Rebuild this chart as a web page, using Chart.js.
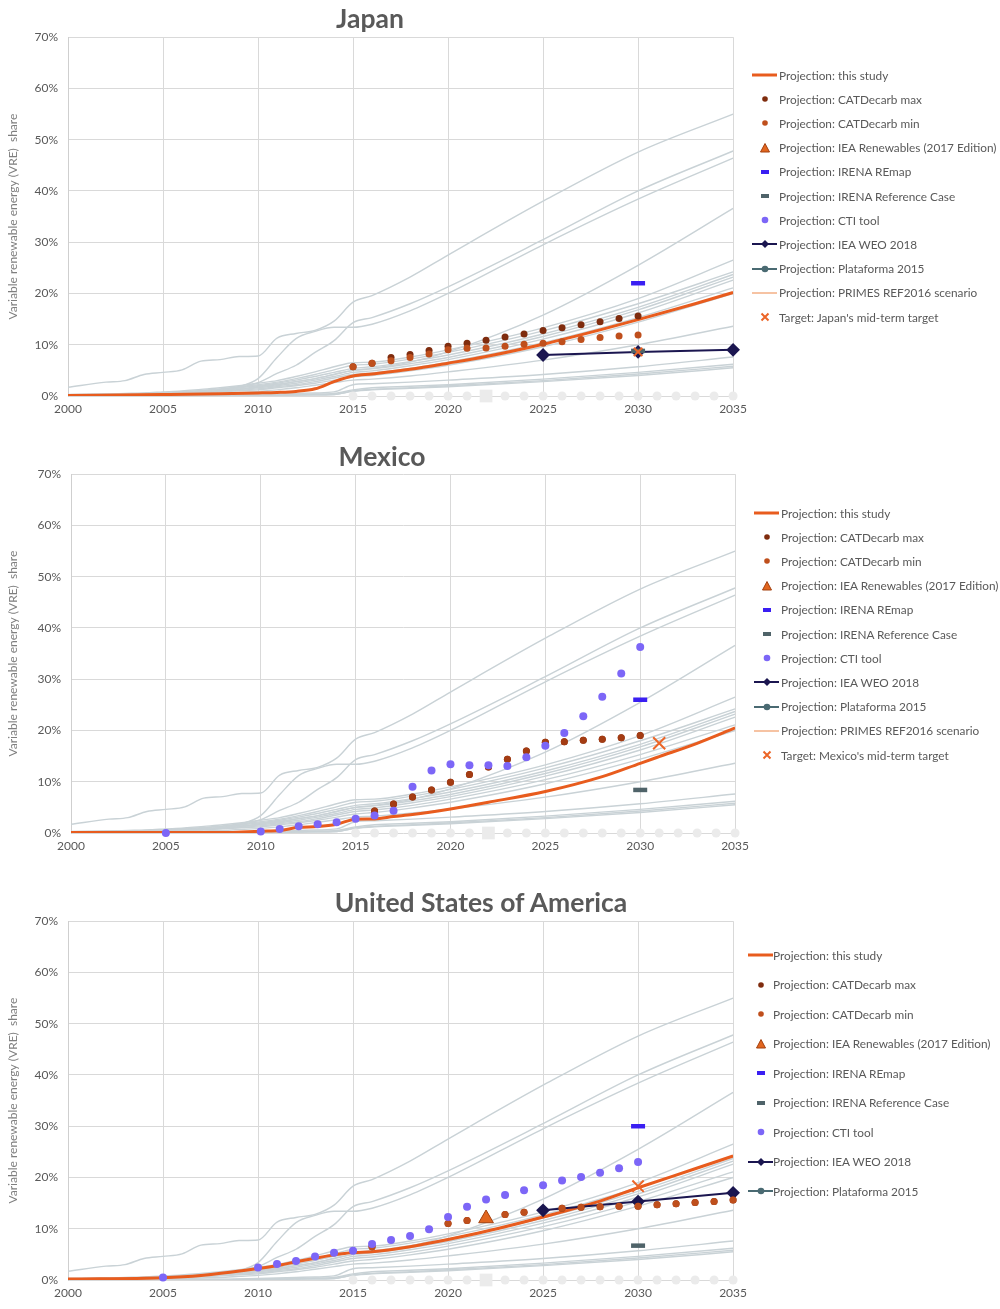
<!DOCTYPE html>
<html>
<head>
<meta charset="utf-8">
<script src="https://cdn.jsdelivr.net/npm/chart.js@4/dist/chart.umd.min.js"></script>
<style>
  body { margin: 0; background: #fff; width: 1000px; height: 1309px; position: relative; overflow: hidden; font-family: Lato, "Open Sans", sans-serif; }
  .box { position: absolute; left: 0; }
  .title { position: absolute; font-weight: bold; color: #595959; font-size: 26px; white-space: nowrap; transform: translate(-50%, -50%) scaleX(1.02); }
  .leg { position: absolute; height: 16px; display: flex; align-items: center; font-size: 11.8px; color: #595959; white-space: nowrap; }
  .leg svg { position: absolute; top: 2px; }
</style>
</head>
<body>
<script>
'use strict';

// grey background pathways (same in every panel)
var GRAY_YEARS = [2000, 2002, 2003, 2004, 2005, 2006, 2007, 2008, 2009, 2010, 2011, 2012, 2013, 2014, 2015, 2016, 2018, 2020, 2025, 2030, 2035];
var GRAY_LINES = [
  [1.7, 2.7, 3.0, 4.2, 4.6, 5.1, 6.8, 7.1, 7.7, 7.8, 11.3, 12.2, 12.8, 14.6, 18.3, 19.6, 23.2, 27.5, 38.0, 47.6, 55.0],
  [0.2, 0.3, 0.35, 0.4, 0.5, 0.6, 0.8, 1.1, 1.8, 3.4, 7.5, 11.2, 12.6, 13.4, 13.4, 14.0, 16.6, 20.0, 29.5, 38.4, 46.4],
  [0.2, 0.3, 0.35, 0.4, 0.5, 0.6, 0.8, 1.0, 1.6, 2.6, 4.4, 6.0, 8.5, 10.8, 14.3, 15.3, 18.0, 21.3, 30.5, 40.0, 47.8],
  [0.1, 0.2, 0.25, 0.3, 0.4, 0.5, 0.7, 0.9, 1.2, 1.8, 2.3, 2.8, 3.4, 4.2, 5.0, 5.4, 6.6, 8.6, 15.8, 25.5, 36.6],
  [0.3, 0.4, 0.5, 0.6, 0.8, 1.0, 1.3, 1.6, 2.0, 2.5, 3.0, 3.8, 4.7, 5.7, 6.5, 6.6, 7.6, 9.0, 13.3, 19.0, 26.5],
  [0.2, 0.3, 0.4, 0.5, 0.7, 0.9, 1.1, 1.4, 1.8, 2.2, 2.7, 3.4, 4.2, 5.1, 6.0, 6.2, 7.2, 8.5, 12.7, 18.0, 24.2],
  [0.2, 0.3, 0.4, 0.5, 0.6, 0.8, 1.0, 1.3, 1.6, 2.0, 2.5, 3.1, 3.8, 4.6, 5.4, 5.7, 6.7, 8.0, 12.1, 17.3, 23.7],
  [0.1, 0.2, 0.3, 0.4, 0.5, 0.7, 0.9, 1.1, 1.4, 1.8, 2.2, 2.8, 3.4, 4.2, 5.0, 5.3, 6.3, 7.5, 11.6, 16.8, 23.2],
  [0.1, 0.2, 0.3, 0.3, 0.4, 0.6, 0.8, 1.0, 1.3, 1.6, 2.0, 2.5, 3.1, 3.8, 4.6, 4.9, 5.9, 7.1, 11.1, 16.2, 22.6],
  [0.1, 0.1, 0.2, 0.3, 0.4, 0.5, 0.7, 0.9, 1.1, 1.4, 1.8, 2.2, 2.8, 3.5, 4.2, 4.5, 5.4, 6.6, 10.4, 15.3, 21.1],
  [0.1, 0.1, 0.2, 0.2, 0.3, 0.4, 0.6, 0.8, 1.0, 1.2, 1.6, 2.0, 2.5, 3.1, 3.7, 4.0, 4.9, 6.0, 9.6, 14.4, 20.0],
  [0.1, 0.1, 0.1, 0.2, 0.2, 0.3, 0.4, 0.5, 0.7, 0.9, 1.2, 1.6, 2.1, 2.6, 3.1, 3.3, 3.9, 4.7, 7.0, 10.0, 13.6],
  [0, 0, 0, 0, 0, 0.1, 0.1, 0.1, 0.2, 0.3, 0.4, 0.5, 0.6, 0.8, 2.2, 2.4, 2.7, 3.1, 4.2, 5.7, 7.6],
  [0, 0, 0, 0, 0, 0, 0.1, 0.1, 0.1, 0.2, 0.2, 0.3, 0.4, 0.5, 1.2, 1.6, 1.9, 2.2, 3.3, 4.6, 6.2],
  [0, 0, 0, 0, 0, 0, 0, 0.1, 0.1, 0.1, 0.2, 0.2, 0.3, 0.3, 1.0, 1.3, 1.6, 2.0, 3.0, 4.3, 5.8],
  [0, 0, 0, 0, 0, 0, 0, 0, 0.1, 0.1, 0.1, 0.2, 0.2, 0.3, 0.9, 1.2, 1.5, 1.8, 2.8, 4.0, 5.5]
];
// faint empty series lying on the 0% line
var ZERO_YEARS = [2015, 2016, 2017, 2018, 2019, 2020, 2021, 2023, 2024, 2025, 2026, 2027, 2028, 2029, 2030, 2031, 2032, 2033, 2034, 2035];
var ZERO_VALUES = [0, 0, 0, 0, 0, 0, 0, 0, 0, 0, 0, 0, 0, 0, 0, 0, 0, 0, 0, 0];
var ZERO_SQ_YEAR = [2022];
var ZERO_SQ_VALUE = [0];

// Japan
var JP_STUDY_YEARS = [2000, 2005, 2008, 2010, 2011, 2012, 2013, 2014, 2015, 2016, 2018, 2020, 2022, 2025, 2028, 2030, 2033, 2035];
var JP_STUDY = [0.1, 0.3, 0.45, 0.6, 0.7, 0.9, 1.4, 2.8, 3.9, 4.3, 5.2, 6.4, 7.7, 10.1, 12.9, 14.9, 18.0, 20.2];
var JP_CAT_YEARS = [2015, 2016, 2017, 2018, 2019, 2020, 2021, 2022, 2023, 2024, 2025, 2026, 2027, 2028, 2029, 2030];
var JP_CAT_MAX = [5.7, 6.4, 7.5, 8.1, 8.9, 9.7, 10.3, 10.9, 11.5, 12.1, 12.8, 13.3, 13.9, 14.5, 15.1, 15.6];
var JP_CAT_MIN = [5.7, 6.4, 6.9, 7.5, 8.2, 9.0, 9.3, 9.35, 9.7, 10.1, 10.3, 10.6, 11.0, 11.4, 11.7, 11.9];
var JP_WEO_YEARS = [2025, 2030, 2035];
var JP_WEO = [8.0, 8.6, 9.0];
var JP_REMAP = [22.0];
var JP_REF = [8.8];
var JP_TARGET_YEAR = [2030];
var JP_TARGET = [8.6];

// Mexico
var MX_STUDY_YEARS = [2000, 2005, 2008, 2009, 2010, 2011, 2012, 2013, 2014, 2015, 2016, 2017, 2018, 2020, 2022, 2025, 2028, 2030, 2031, 2033, 2035];
var MX_STUDY = [0.1, 0.1, 0.1, 0.2, 0.35, 0.5, 1.1, 1.25, 1.7, 2.7, 2.75, 3.2, 3.6, 4.7, 6.0, 8.1, 11.0, 13.6, 14.9, 17.5, 20.5];
var MX_CAT_YEARS = [2016, 2017, 2018, 2019, 2020, 2021, 2022, 2023, 2024, 2025, 2026, 2027, 2028, 2029, 2030];
var MX_CAT = [4.3, 5.65, 7.0, 8.4, 9.9, 11.4, 12.9, 14.4, 16.0, 17.7, 17.8, 18.1, 18.3, 18.6, 19.0];
var MX_CTI_YEARS = [2005, 2010, 2011, 2012, 2013, 2014, 2015, 2016, 2017, 2018, 2019, 2020, 2021, 2022, 2023, 2024, 2025, 2026, 2027, 2028, 2029, 2030];
var MX_CTI = [0.0, 0.3, 0.8, 1.3, 1.7, 2.1, 2.8, 3.4, 4.35, 9.0, 12.2, 13.4, 13.2, 13.2, 13.05, 14.8, 17.0, 19.5, 22.8, 26.6, 31.1, 36.3];
var MX_REMAP = [26.0];
var MX_REF = [8.4];
var MX_TARGET_YEAR = [2031];
var MX_TARGET = [17.5];

// United States of America
var US_STUDY_YEARS = [2000, 2005, 2007, 2010, 2011, 2012, 2013, 2014, 2015, 2016, 2018, 2020, 2022, 2025, 2028, 2030, 2033, 2035];
var US_STUDY = [0.2, 0.45, 0.9, 2.25, 2.8, 3.55, 4.25, 4.9, 5.35, 5.5, 6.5, 7.9, 9.5, 12.3, 15.4, 18.0, 21.7, 24.2];
var US_CAT_YEARS = [2016, 2020, 2021, 2022, 2023, 2024, 2026, 2027, 2028, 2029, 2030, 2031, 2032, 2033, 2034, 2035];
var US_CAT = [6.5, 11.0, 11.6, 12.2, 12.8, 13.2, 14.0, 14.2, 14.3, 14.4, 14.4, 14.7, 14.9, 15.1, 15.3, 15.6];
var US_CTI_YEARS = [2005, 2010, 2011, 2012, 2013, 2014, 2015, 2016, 2017, 2018, 2019, 2020, 2021, 2022, 2023, 2024, 2025, 2026, 2027, 2028, 2029, 2030];
var US_CTI = [0.5, 2.45, 3.1, 3.7, 4.6, 5.3, 5.7, 7.0, 7.8, 8.6, 9.9, 12.3, 14.3, 15.7, 16.6, 17.5, 18.5, 19.4, 20.1, 20.9, 21.8, 23.0];
var US_IEA_REN_YEAR = [2022];
var US_IEA_REN = [12.0];
var US_WEO_YEARS = [2025, 2030, 2035];
var US_WEO = [13.6, 15.3, 17.0];
var US_REMAP = [30.0];
var US_REF = [6.7];
var US_TARGET_YEAR = [2030];
var US_TARGET = [18.3];

var IRENA_YEAR = [2030];

var LABELS = {
  study: 'Projection: this study',
  catMax: 'Projection: CATDecarb max',
  catMin: 'Projection: CATDecarb min',
  ieaRen: 'Projection: IEA Renewables (2017 Edition)',
  remap: 'Projection: IRENA REmap',
  ref: 'Projection: IRENA Reference Case',
  cti: 'Projection: CTI tool',
  weo: 'Projection: IEA WEO 2018',
  plat: 'Projection: Plataforma 2015',
  primes: 'Projection: PRIMES REF2016 scenario'
};
var LEGEND_JP = ['study', 'catMax', 'catMin', 'ieaRen', 'remap', 'ref', 'cti', 'weo', 'plat', 'primes', 'target'];
var LEGEND_MX = ['study', 'catMax', 'catMin', 'ieaRen', 'remap', 'ref', 'cti', 'weo', 'plat', 'primes', 'target'];
var LEGEND_US = ['study', 'catMax', 'catMin', 'ieaRen', 'remap', 'ref', 'cti', 'weo', 'plat'];

var C = {
  gray: '#c9d2d6', zero: '#ebebeb', study: '#e85c1e', catMax: '#7f2c0e', catMin: '#bf4f1c',
  ieaRen: '#e2661f', ieaRenEdge: '#a3400f', remap: '#3a1ff2', ref: '#4f6369', cti: '#7c66f7',
  weo: '#1b1650', plat: '#4a6a72', primes: '#f6c3a3', target: '#ec6527'
};

Chart.defaults.font.family = 'Lato, "Open Sans", sans-serif';

function xy(xs, ys) {
  return xs.map(function (x, i) { return { x: x, y: ys[i] }; });
}

function marks(label, xs, ys, opts) {
  return Object.assign({
    label: label, data: xy(xs, ys), showLine: false, clip: false,
    pointRadius: 3.5, pointBorderWidth: 0, pointHoverRadius: 0
  }, opts);
}

function baseSets() {
  var sets = [];
  GRAY_LINES.forEach(function (vals, i) {
    sets.push({
      label: 'gray' + i, data: xy(GRAY_YEARS, vals), borderColor: C.gray, borderWidth: 1.4,
      pointRadius: 0, cubicInterpolationMode: 'monotone', order: 100
    });
  });
  sets.push(marks('zero', ZERO_YEARS, ZERO_VALUES, { pointRadius: 4.5, pointBackgroundColor: C.zero, order: 90 }));
  sets.push(marks('zeroSq', ZERO_SQ_YEAR, ZERO_SQ_VALUE, { pointStyle: 'rect', pointRadius: 9, pointBackgroundColor: C.zero, order: 90 }));
  return sets;
}

function studyLine(xs, ys) {
  return {
    label: LABELS.study, data: xy(xs, ys), borderColor: C.study, borderWidth: 3,
    pointRadius: 0, cubicInterpolationMode: 'monotone', order: 9
  };
}
function dashMark(label, ys, color) {
  return marks(label, IRENA_YEAR, ys, { pointStyle: 'line', pointRadius: 7, pointBorderWidth: 4.5, pointBorderColor: color, order: 4 });
}
function targetMark(label, xs, ys, r) {
  return marks(label, xs, ys, { pointStyle: 'crossRot', pointRadius: r, pointBorderWidth: 2, pointBorderColor: C.target, order: 1 });
}
function weoLine(xs, ys) {
  return {
    label: LABELS.weo, data: xy(xs, ys), borderColor: C.weo, borderWidth: 2, clip: false,
    pointStyle: 'rectRot', pointRadius: 5.5, pointBackgroundColor: C.weo, pointBorderColor: C.weo, order: 8
  };
}

function makeChart(g, datasets) {
  var box = document.createElement('div');
  box.className = 'box';
  box.style.top = (g.top - 16) + 'px';
  box.style.width = (g.right + 20) + 'px';
  box.style.height = (g.bottom - g.top + 16 + 24) + 'px';
  var cv = document.createElement('canvas');
  box.appendChild(cv);
  document.body.appendChild(box);

  var t = document.createElement('div');
  t.className = 'title';
  t.textContent = g.title;
  t.style.left = g.titleX + 'px';
  t.style.top = g.titleY + 'px';
  document.body.appendChild(t);

  return new Chart(cv, {
    type: 'line',
    data: { datasets: datasets },
    options: {
      responsive: true,
      maintainAspectRatio: false,
      animation: false,
      events: [],
      layout: { padding: { top: 16, right: 16, left: 0, bottom: 0 } },
      plugins: { legend: { display: false }, tooltip: { enabled: false } },
      scales: {
        x: {
          type: 'linear', min: 2000, max: 2035,
          ticks: { stepSize: 5, maxRotation: 0, padding: 6, color: '#595959', font: { size: 12 },
            callback: function (v) { return String(v); } },
          grid: { color: '#d9d9d9', drawTicks: false },
          border: { display: false },
          afterFit: function (s) { s.height = 24; }
        },
        y: {
          min: 0, max: 70,
          ticks: { stepSize: 10, padding: 10, color: '#595959', font: { size: 12 },
            callback: function (v) { return v + '%'; } },
          grid: { color: '#d9d9d9', drawTicks: false },
          border: { color: '#cfcfcf' },
          title: { display: true, text: 'Variable renewable energy (VRE)  share', color: '#7f7f7f',
            font: { size: 12 }, padding: { top: 6, bottom: 0 } },
          afterFit: function (s) { s.width = g.left; }
        }
      }
    }
  });
}

function markerSvg(key) {
  var s = '<svg width="26" height="12" viewBox="0 0 26 12">';
  if (key === 'study') s += '<line x1="0" y1="6" x2="25" y2="6" stroke="' + C.study + '" stroke-width="3"/>';
  else if (key === 'catMax') s += '<circle cx="13" cy="6" r="2.8" fill="' + C.catMax + '"/>';
  else if (key === 'catMin') s += '<circle cx="13" cy="6" r="2.8" fill="' + C.catMin + '"/>';
  else if (key === 'ieaRen') s += '<polygon points="13,1.5 17.5,10 8.5,10" fill="' + C.ieaRen + '" stroke="' + C.ieaRenEdge + '" stroke-width="1"/>';
  else if (key === 'remap') s += '<rect x="9" y="4" width="8" height="4" fill="' + C.remap + '"/>';
  else if (key === 'ref') s += '<rect x="9" y="4" width="8" height="4" fill="' + C.ref + '"/>';
  else if (key === 'cti') s += '<circle cx="13" cy="6" r="3.3" fill="' + C.cti + '"/>';
  else if (key === 'weo') s += '<line x1="0" y1="6" x2="25" y2="6" stroke="' + C.weo + '" stroke-width="2"/><polygon points="13,2 17,6 13,10 9,6" fill="' + C.weo + '"/>';
  else if (key === 'plat') s += '<line x1="0" y1="6" x2="25" y2="6" stroke="' + C.plat + '" stroke-width="2"/><circle cx="13" cy="6" r="3.3" fill="' + C.plat + '"/>';
  else if (key === 'primes') s += '<line x1="0" y1="6" x2="25" y2="6" stroke="' + C.primes + '" stroke-width="2"/>';
  else if (key === 'target') s += '<path d="M9.5 2.5 L16.5 9.5 M16.5 2.5 L9.5 9.5" stroke="' + C.target + '" stroke-width="2"/>';
  return s + '</svg>';
}

function legend(keys, targetLabel, lx, tx, y0, step) {
  keys.forEach(function (k, i) {
    var row = document.createElement('div');
    row.className = 'leg';
    row.style.left = lx + 'px';
    row.style.top = (y0 + i * step - 8) + 'px';
    row.innerHTML = markerSvg(k) + '<span style="margin-left:' + (tx - lx) + 'px">' +
      (k === 'target' ? targetLabel : LABELS[k]) + '</span>';
    document.body.appendChild(row);
  });
}

// Japan
makeChart({ title: 'Japan', top: 36, bottom: 396, left: 68, right: 733, titleX: 370, titleY: 18 },
  [
    targetMark("Target: Japan's mid-term target", JP_TARGET_YEAR, JP_TARGET, 6),
    dashMark(LABELS.remap, JP_REMAP, C.remap),
    dashMark(LABELS.ref, JP_REF, C.ref),
    marks(LABELS.catMin, JP_CAT_YEARS, JP_CAT_MIN, { pointBackgroundColor: C.catMin, order: 6 }),
    marks(LABELS.catMax, JP_CAT_YEARS, JP_CAT_MAX, { pointBackgroundColor: C.catMax, order: 7 }),
    weoLine(JP_WEO_YEARS, JP_WEO),
    studyLine(JP_STUDY_YEARS, JP_STUDY)
  ].concat(baseSets()));
legend(LEGEND_JP, "Target: Japan's mid-term target", 752, 779, 75, 24.2);

// Mexico
makeChart({ title: 'Mexico', top: 473, bottom: 833, left: 71, right: 735, titleX: 382, titleY: 456 },
  [
    targetMark("Target: Mexico's mid-term target", MX_TARGET_YEAR, MX_TARGET, 8.5),
    marks(LABELS.cti, MX_CTI_YEARS, MX_CTI, { pointRadius: 4, pointBackgroundColor: C.cti, order: 3 }),
    dashMark(LABELS.remap, MX_REMAP, C.remap),
    dashMark(LABELS.ref, MX_REF, C.ref),
    marks(LABELS.catMin, MX_CAT_YEARS, MX_CAT, { pointBackgroundColor: '#a43c13', order: 6 }),
    marks(LABELS.catMax, MX_CAT_YEARS, MX_CAT, { pointBackgroundColor: C.catMax, order: 7 }),
    studyLine(MX_STUDY_YEARS, MX_STUDY)
  ].concat(baseSets()));
legend(LEGEND_MX, "Target: Mexico's mid-term target", 754, 781, 513, 24.2);

// United States of America
makeChart({ title: 'United States of America', top: 920, bottom: 1280, left: 68, right: 733, titleX: 481, titleY: 902 },
  [
    targetMark('Target', US_TARGET_YEAR, US_TARGET, 8),
    marks(LABELS.ieaRen, US_IEA_REN_YEAR, US_IEA_REN, { pointStyle: 'triangle', pointRadius: 8.5, pointBackgroundColor: C.ieaRen, pointBorderColor: C.ieaRenEdge, pointBorderWidth: 1, order: 2 }),
    marks(LABELS.cti, US_CTI_YEARS, US_CTI, { pointRadius: 4, pointBackgroundColor: C.cti, order: 3 }),
    dashMark(LABELS.remap, US_REMAP, C.remap),
    dashMark(LABELS.ref, US_REF, C.ref),
    marks(LABELS.catMin, US_CAT_YEARS, US_CAT, { pointBackgroundColor: C.catMin, order: 6 }),
    marks(LABELS.catMax, US_CAT_YEARS, US_CAT, { pointBackgroundColor: C.catMax, order: 7 }),
    weoLine(US_WEO_YEARS, US_WEO),
    studyLine(US_STUDY_YEARS, US_STUDY)
  ].concat(baseSets()));
legend(LEGEND_US, '', 748, 773, 955, 29.5);
</script>
</body>
</html>
